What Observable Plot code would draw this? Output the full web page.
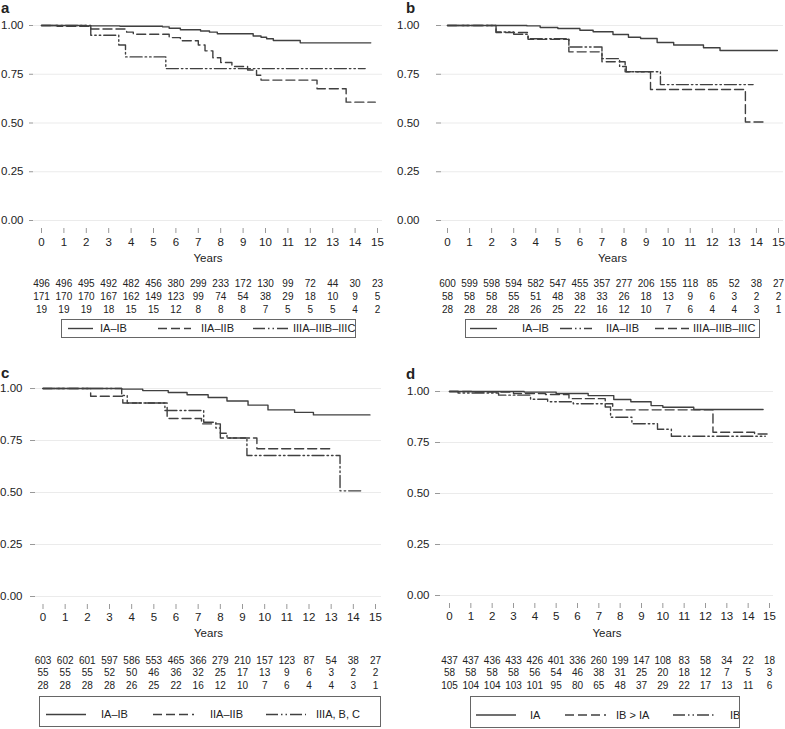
<!DOCTYPE html>
<html><head><meta charset="utf-8">
<script src="https://cdn.jsdelivr.net/npm/d3@7"></script>
<script src="https://cdn.jsdelivr.net/npm/@observablehq/plot@0.6"></script>
<style>
body{margin:0;background:#fff;font-family:"Liberation Sans",Arial,sans-serif;color:#222}
#root{position:relative;width:785px;height:729px;overflow:hidden;background:#fff}
.abs{position:absolute}
.letter{position:absolute;font-weight:bold;font-size:15px;line-height:15px}
.leg{position:absolute;border:1px solid #666;box-sizing:border-box}
</style></head><body><div id="root"></div>
<script>
// ---------- tick labels ----------
const yearTicks = [0,1,2,3,4,5,6,7,8,9,10,11,12,13,14,15];
const survTicks = [0,0.25,0.5,0.75,1];

// ---------- panel a : survival steps [years, proportion] ----------
const aIAIB   = [[0,1],[2,0.998],[3.5,0.996],[5.4,0.993],[5.7,0.986],[6.2,0.978],[7.1,0.972],[7.5,0.966],[7.85,0.958],[9.45,0.946],[9.8,0.94],[10.05,0.932],[10.35,0.923],[11.55,0.911],[14.7,0.911]];
const aIIAIIB = [[0,1],[0.7,0.996],[2.2,0.982],[3.8,0.966],[4.1,0.955],[5.7,0.938],[6.2,0.922],[7.0,0.90],[7.3,0.87],[7.65,0.835],[8.0,0.81],[8.5,0.79],[9.2,0.772],[9.6,0.745],[9.8,0.72],[12.3,0.676],[13.6,0.607],[14.9,0.607]];
const aIIIA   = [[0,1],[2.2,0.95],[3.45,0.90],[3.75,0.839],[5.55,0.779],[14.45,0.779]];
// panel b
const bIAIB   = [[0,1],[3.6,0.998],[4.2,0.99],[5.0,0.985],[6.0,0.976],[6.6,0.968],[7.5,0.954],[8.2,0.94],[8.75,0.933],[9.5,0.913],[10.25,0.9],[11.6,0.886],[12.35,0.872],[14.95,0.872]];
const bIIAIIB = [[0,1],[2.2,0.967],[3.0,0.955],[3.65,0.932],[5.5,0.89],[7.0,0.83],[7.8,0.79],[8.1,0.763],[9.65,0.697],[13.85,0.697]];
const bIIIA   = [[0,1],[2.2,0.964],[3.65,0.929],[5.5,0.865],[7.0,0.814],[8.05,0.763],[9.2,0.672],[13.5,0.505],[14.4,0.505]];
// panel c
const cIAIB   = [[0,1],[3.55,0.997],[4.5,0.99],[5.65,0.981],[6.5,0.97],[7.45,0.957],[8.3,0.94],[9.25,0.92],[10.15,0.897],[11.35,0.885],[12.2,0.873],[14.75,0.873]];
const cIIAIIB = [[0,1],[2.15,0.963],[3.6,0.93],[5.6,0.856],[7.15,0.83],[8.0,0.762],[9.65,0.71],[13.1,0.71]];
const cIIIA   = [[0,1],[3.55,0.966],[3.8,0.93],[5.5,0.894],[7.25,0.838],[7.8,0.81],[8.0,0.785],[8.3,0.762],[9.2,0.678],[13.4,0.508],[14.4,0.508]];
// panel d
const dIA     = [[0,1],[3.5,0.997],[5.0,0.99],[6.5,0.98],[7.7,0.961],[8.5,0.95],[9.45,0.931],[10.0,0.923],[11.45,0.912],[14.7,0.912]];
const dIBgtIA = [[0,1],[1.2,0.997],[3.0,0.99],[4.5,0.985],[5.6,0.965],[7.3,0.94],[7.65,0.91],[12.35,0.80],[14.3,0.792],[15,0.792]];
const dIB     = [[0,1],[0.4,0.993],[2.3,0.982],[3.8,0.962],[4.6,0.95],[5.8,0.94],[7.3,0.924],[7.55,0.874],[8.55,0.842],[9.75,0.815],[10.4,0.781],[14.8,0.781]];

// ---------- numbers at risk ----------
const aRisk1 = [496,496,495,492,482,456,380,299,233,172,130,99,72,44,30,23];
const aRisk2 = [171,170,170,167,162,149,123,99,74,54,38,29,18,10,9,5];
const aRisk3 = [19,19,19,18,15,15,12,8,8,8,7,5,5,5,4,2];
const bRisk1 = [600,599,598,594,582,547,455,357,277,206,155,118,85,52,38,27];
const bRisk2 = [58,58,58,55,51,48,38,33,26,18,13,9,6,3,2,2];
const bRisk3 = [28,28,28,28,26,25,22,16,12,10,7,6,4,4,3,1];
const cRisk1 = [603,602,601,597,586,553,465,366,279,210,157,123,87,54,38,27];
const cRisk2 = [55,55,55,52,50,46,36,32,25,17,13,9,6,3,2,2];
const cRisk3 = [28,28,28,28,26,25,22,16,12,10,7,6,4,4,3,1];
const dRisk1 = [437,437,436,433,426,401,336,260,199,147,108,83,58,34,22,18];
const dRisk2 = [58,58,58,58,56,54,46,38,31,25,20,18,12,7,5,3];
const dRisk3 = [105,104,104,103,101,95,80,65,48,37,29,22,17,13,11,6];

// ---------- legend labels ----------
const aLabels = ["IA\u2013IB","IIA\u2013IIB","IIIA\u2013IIIB\u2013IIIC"];
const bLabels = ["IA\u2013IB","IIA\u2013IIB","IIIA\u2013IIIB\u2013IIIC"];
const cLabels = ["IA\u2013IB","IIA\u2013IIB","IIIA, B, C"];
const dLabels = ["IA","IB > IA","IB"];

// line styles
const SOLID = null, DASH = "9,4", DASHDOT = "12,3,1.5,3,1.5,3";
const LINE = "#404040";
const FONT = '"Liberation Sans",Arial,sans-serif';
const fmt2 = d3.format(".2f");

const root = document.getElementById("root");

function panel(cfg){
  const L = document.createElement("div");
  L.className = "letter"; L.textContent = cfg.letter;
  L.style.left = cfg.letterPos[0]+"px"; L.style.top = cfg.letterPos[1]+"px";
  root.appendChild(L);

  const main = Plot.plot({
    width: cfg.width, height: cfg.height,
    marginLeft: cfg.m[0], marginRight: cfg.m[1], marginTop: cfg.m[2], marginBottom: cfg.m[3],
    style: {fontFamily: FONT, fontSize: "11.5px", color: "#222", background: "transparent", overflow: "visible"},
    x: {domain: [0,15], range: cfg.xRange},
    y: {domain: [0,1], range: cfg.yRange},
    marks: [
      Plot.gridY(survTicks, {stroke: "#ebebeb", strokeOpacity: 1}),
      Plot.axisY(survTicks, {tickSize: cfg.yTick[0], tickFormat: () => "", line: true, stroke: "#999", label: null}),
      Plot.text(survTicks, {y: d => d, text: d => fmt2(d), frameAnchor: "left", textAnchor: "end", dx: -cfg.yTick[1], fill: "#222"}),
      Plot.axisX(yearTicks, {tickSize: 5, tickFormat: () => "", line: true, stroke: "#999", label: null}),
      Plot.text(yearTicks, {x: d => d, text: d => String(d), frameAnchor: "bottom", dy: cfg.xLabDy, fill: "#222"}),
      Plot.text(["Years"], {text: d => d, frameAnchor: "bottom", dy: cfg.yearsDy, fill: "#222"}),
      ...cfg.series.map(s => Plot.line(s.data, {x: d => d[0], y: d => d[1], curve: "step-after", stroke: LINE, strokeWidth: 1.4, strokeDasharray: s.dash}))
    ]
  });
  main.classList.add("abs");
  main.style.left = cfg.left+"px"; main.style.top = cfg.top+"px";
  root.appendChild(main);

  const rows = [];
  cfg.risk.forEach((arr, g) => arr.forEach((n, i) => rows.push({x: yearTicks[i], g, n})));
  const table = Plot.plot({
    width: cfg.width, height: cfg.tableHeight,
    marginLeft: cfg.m[0], marginRight: cfg.m[1], marginTop: 0, marginBottom: 0,
    style: {fontFamily: FONT, color: "#222", background: "transparent", overflow: "visible"},
    x: {domain: [0,15], range: cfg.xRange, axis: null},
    y: {domain: [0,2], range: cfg.rowsY, axis: null},
    marks: [Plot.text(rows, {x: "x", y: "g", text: d => String(d.n), fontSize: 10, fill: "#222"})]
  });
  table.classList.add("abs");
  table.style.left = cfg.left+"px"; table.style.top = cfg.tableTop+"px";
  root.appendChild(table);

  // legend
  const lg = cfg.legend;
  const box = document.createElement("div");
  box.className = "leg";
  box.style.left = lg.left+"px"; box.style.top = lg.top+"px";
  box.style.width = lg.w+"px"; box.style.height = lg.h+"px";
  root.appendChild(box);
  const svg = d3.select(box).append("svg").attr("width", lg.w-2).attr("height", lg.h-2).style("position","absolute").style("left","0").style("top","0");
  const cy = (lg.h-2)/2 + (lg.dy||0);
  cfg.series.forEach((s, i) => {
    const it = lg.items[i];
    svg.append("line").attr("x1", it[0]).attr("x2", it[1]).attr("y1", cy).attr("y2", cy)
      .attr("stroke", LINE).attr("stroke-width", 1.4).attr("stroke-dasharray", s.dash);
    svg.append("text").attr("x", it[2]).attr("y", cy).attr("dy", "0.35em")
      .attr("font-size", 11).attr("fill", "#222").attr("font-family", FONT)
      .text(cfg.labels[i]);
  });
}

panel({
  letter: "a", letterPos: [1, 0],
  left: 0, top: 0, width: 392, height: 270, m: [33, 10, 17, 42],
  xRange: [41, 377], yRange: [220, 25], yTick: [4, 10], xLabDy: 17, yearsDy: 33,
  series: [{data: aIAIB, dash: SOLID}, {data: aIIAIIB, dash: DASH}, {data: aIIIA, dash: DASHDOT}],
  labels: aLabels,
  risk: [aRisk1, aRisk2, aRisk3], tableTop: 270, tableHeight: 46, rowsY: [13, 39],
  legend: {left: 61, top: 319, w: 295, h: 19, items: [[6,31,38],[96,129,139],[191,226,231]]}
});
panel({
  letter: "b", letterPos: [406, 0],
  left: 392, top: 0, width: 393, height: 270, m: [49, 2, 18, 42],
  xRange: [55, 386], yRange: [220, 25], yTick: [5, 22], xLabDy: 17, yearsDy: 33,
  series: [{data: bIAIB, dash: SOLID}, {data: bIIAIIB, dash: DASHDOT}, {data: bIIIA, dash: DASH}],
  labels: bLabels,
  risk: [bRisk1, bRisk2, bRisk3], tableTop: 270, tableHeight: 46, rowsY: [13, 39],
  legend: {left: 465, top: 319, w: 295, h: 19, items: [[4,31,56],[94,126,140],[189,223,227]]}
});
panel({
  letter: "c", letterPos: [1, 365],
  left: 0, top: 360, width: 392, height: 290, m: [35, 11, 20, 46],
  xRange: [42.5, 375], yRange: [236, 28], yTick: [5, 13], xLabDy: 16, yearsDy: 32,
  series: [{data: cIAIB, dash: SOLID}, {data: cIIAIIB, dash: DASH}, {data: cIIIA, dash: DASHDOT}],
  labels: cLabels,
  risk: [cRisk1, cRisk2, cRisk3], tableTop: 650, tableHeight: 45, rowsY: [10, 35],
  legend: {left: 39, top: 696, w: 342, h: 31, dy: 3, items: [[6,46,61],[113,154,170],[226,266,276]]}
});
panel({
  letter: "d", letterPos: [406, 366],
  left: 392, top: 360, width: 393, height: 290, m: [48, 12, 23, 47],
  xRange: [57, 377], yRange: [235, 31], yTick: [5, 11], xLabDy: 16, yearsDy: 33,
  series: [{data: dIA, dash: SOLID}, {data: dIBgtIA, dash: DASH}, {data: dIB, dash: DASHDOT}],
  labels: dLabels,
  risk: [dRisk1, dRisk2, dRisk3], tableTop: 650, tableHeight: 45, rowsY: [10, 35],
  legend: {left: 470, top: 696, w: 270, h: 32, dy: 3, items: [[5,45,59],[94,135,145],[202,245,259]]}
});
</script></body></html>
